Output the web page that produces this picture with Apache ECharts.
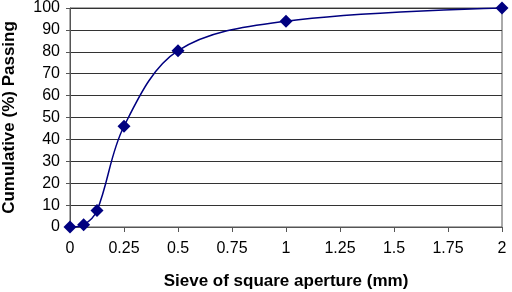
<!DOCTYPE html>
<html>
<head>
<meta charset="utf-8">
<script src="https://cdn.jsdelivr.net/npm/echarts@6/dist/echarts.min.js"></script>
<style>
  html, body { margin: 0; padding: 0; background: #fff; }
  #main { width: 512px; height: 292px; }
</style>
</head>
<body>
<div id="main"></div>
<script>
// sieve sizes (mm) and cumulative passing (%)
const sieveSizes = [0, 0.063, 0.125, 0.25, 0.5, 1, 2];
const passing = [0, 1, 7.5, 46, 80.5, 94, 100];

const points = sieveSizes.map((s, i) => [s, passing[i]]);

const chart = echarts.init(document.getElementById("main"));
const option = {
  animation: false,
  grid: {
    left: 70,
    right: 10,
    top: 8,
    bottom: 65,
    outerBoundsMode: "none",
    show: true,
    borderColor: "#555",
    borderWidth: 1,
  },
  xAxis: {
    type: "value",
    min: 0,
    max: 2,
    interval: 0.25,
    name: "Sieve of square aperture (mm)",
    nameLocation: "middle",
    nameGap: 46,
    nameTextStyle: { fontFamily: "Liberation Sans", fontWeight: "bold", fontSize: 17, color: "#000" },
    axisLine: { lineStyle: { color: "#555" } },
    axisTick: { show: true, length: 5, lineStyle: { color: "#555" } },
    axisLabel: { fontFamily: "Liberation Sans", fontSize: 16, color: "#000", margin: 14 },
    splitLine: { show: false },
  },
  yAxis: {
    type: "value",
    min: 0,
    max: 100,
    interval: 10,
    name: "Cumulative (%) Passing",
    nameLocation: "middle",
    nameGap: 52,
    nameTextStyle: { fontFamily: "Liberation Sans", fontWeight: "bold", fontSize: 17, color: "#000" },
    axisLine: { show: true, lineStyle: { color: "#555" } },
    axisTick: { show: true, length: 4, lineStyle: { color: "#555" } },
    axisLabel: { fontFamily: "Liberation Sans", fontSize: 16, color: "#000", margin: 10 },
    splitLine: { show: true, lineStyle: { color: "#333", width: 1 } },
  },
  series: [
    {
      type: "line",
      data: points,
      smooth: 0.35,
      symbol: "diamond",
      symbolSize: 13,
      lineStyle: { color: "#000080", width: 1.5 },
      itemStyle: { color: "#000080" },
    },
  ],
};
chart.setOption(option);
</script>
</body>
</html>
